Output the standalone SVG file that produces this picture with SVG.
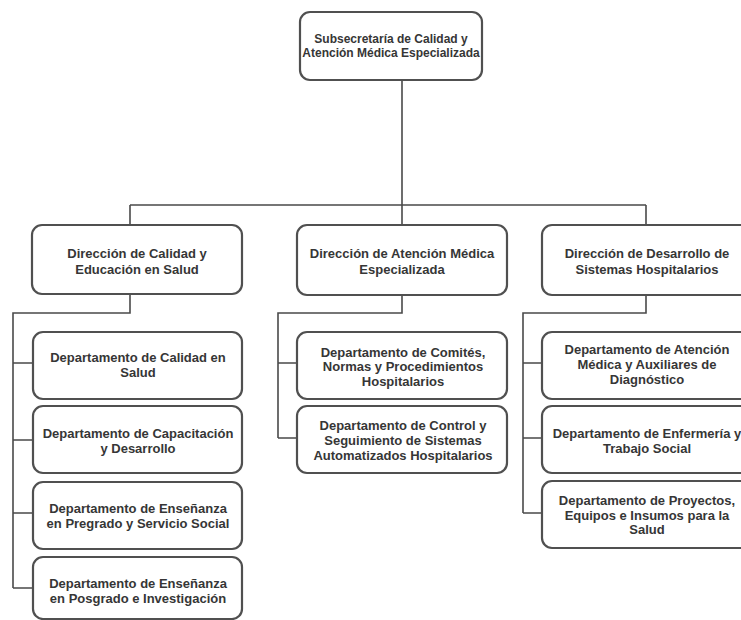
<svg xmlns="http://www.w3.org/2000/svg" width="741" height="620" viewBox="0 0 741 620">
<style>
.box{fill:#fff;stroke:#505050;stroke-width:2.2}
.t{font-family:"Liberation Sans",Arial,sans-serif;font-weight:bold;font-size:13px;fill:#363636;text-anchor:middle}
.t12{font-size:12px}
.c{fill:none;stroke:#4a4a4a;stroke-width:1.6}
</style>
<rect width="741" height="620" fill="#fff"/>
<g id="connectors">
<path class="c" d="M402 80V205M130 205H646M130 205V225M402 205V225M646 205V225"/>
<path class="c" d="M130 294V313H13V588M13 363H33M13 440H33M13 513H33M13 588H33"/>
<path class="c" d="M402 295V313H278V438M278 363H297M278 438H297"/>
<path class="c" d="M646 295V313H523V513M523 363H542M523 438H542M523 513H542"/>
</g>
<g id="n0"><rect class="box" x="300" y="12" width="182" height="68" rx="10"/>
<text class="t t12" x="391" y="43">Subsecretaría de Calidad y</text>
<text class="t t12" x="391" y="57">Atención Médica Especializada</text></g>
<g id="n1"><rect class="box" x="32" y="225" width="210" height="69" rx="10"/>
<text class="t" x="137" y="257.5">Dirección de Calidad y</text>
<text class="t" x="137" y="273.5">Educación en Salud</text></g>
<g id="n2"><rect class="box" x="297" y="225" width="210" height="70" rx="10"/>
<text class="t" x="402" y="257.5">Dirección de Atención Médica</text>
<text class="t" x="402" y="273.5">Especializada</text></g>
<g id="n3"><rect class="box" x="542" y="225" width="210" height="70" rx="10"/>
<text class="t" x="647" y="257.5">Dirección de Desarrollo de</text>
<text class="t" x="647" y="273.5">Sistemas Hospitalarios</text></g>
<g id="n4"><rect class="box" x="33" y="332" width="209" height="67" rx="10"/>
<text class="t" x="138" y="361.5">Departamento de Calidad en</text>
<text class="t" x="138" y="376.5">Salud</text></g>
<g id="n5"><rect class="box" x="33" y="406" width="209" height="67" rx="10"/>
<text class="t" x="138" y="437.5">Departamento de Capacitación</text>
<text class="t" x="138" y="452.5">y Desarrollo</text></g>
<g id="n6"><rect class="box" x="33" y="482" width="209" height="67" rx="10"/>
<text class="t" x="138" y="512.5">Departamento de Enseñanza</text>
<text class="t" x="138" y="527.5">en Pregrado y Servicio Social</text></g>
<g id="n7"><rect class="box" x="33" y="557" width="209" height="62" rx="10"/>
<text class="t" x="138" y="587.5">Departamento de Enseñanza</text>
<text class="t" x="138" y="602.5">en Posgrado e Investigación</text></g>
<g id="n8"><rect class="box" x="297" y="332" width="210" height="67" rx="10"/>
<text class="t" x="403" y="356.5">Departamento de Comités,</text>
<text class="t" x="403" y="371">Normas y Procedimientos</text>
<text class="t" x="403" y="385.5">Hospitalarios</text></g>
<g id="n9"><rect class="box" x="297" y="406" width="210" height="67" rx="10"/>
<text class="t" x="403" y="429.5">Departamento de Control y</text>
<text class="t" x="403" y="444.5">Seguimiento de Sistemas</text>
<text class="t" x="403" y="459.5">Automatizados Hospitalarios</text></g>
<g id="n10"><rect class="box" x="542" y="332" width="210" height="67" rx="10"/>
<text class="t" x="647" y="353.5">Departamento de Atención</text>
<text class="t" x="647" y="368.5">Médica y Auxiliares de</text>
<text class="t" x="647" y="383.5">Diagnóstico</text></g>
<g id="n11"><rect class="box" x="542" y="406" width="210" height="67" rx="10"/>
<text class="t" x="647" y="437.5">Departamento de Enfermería y</text>
<text class="t" x="647" y="452.5">Trabajo Social</text></g>
<g id="n12"><rect class="box" x="542" y="481" width="210" height="67" rx="10"/>
<text class="t" x="647" y="504.5">Departamento de Proyectos,</text>
<text class="t" x="647" y="519.5">Equipos e Insumos para la</text>
<text class="t" x="647" y="534">Salud</text></g>
</svg>
